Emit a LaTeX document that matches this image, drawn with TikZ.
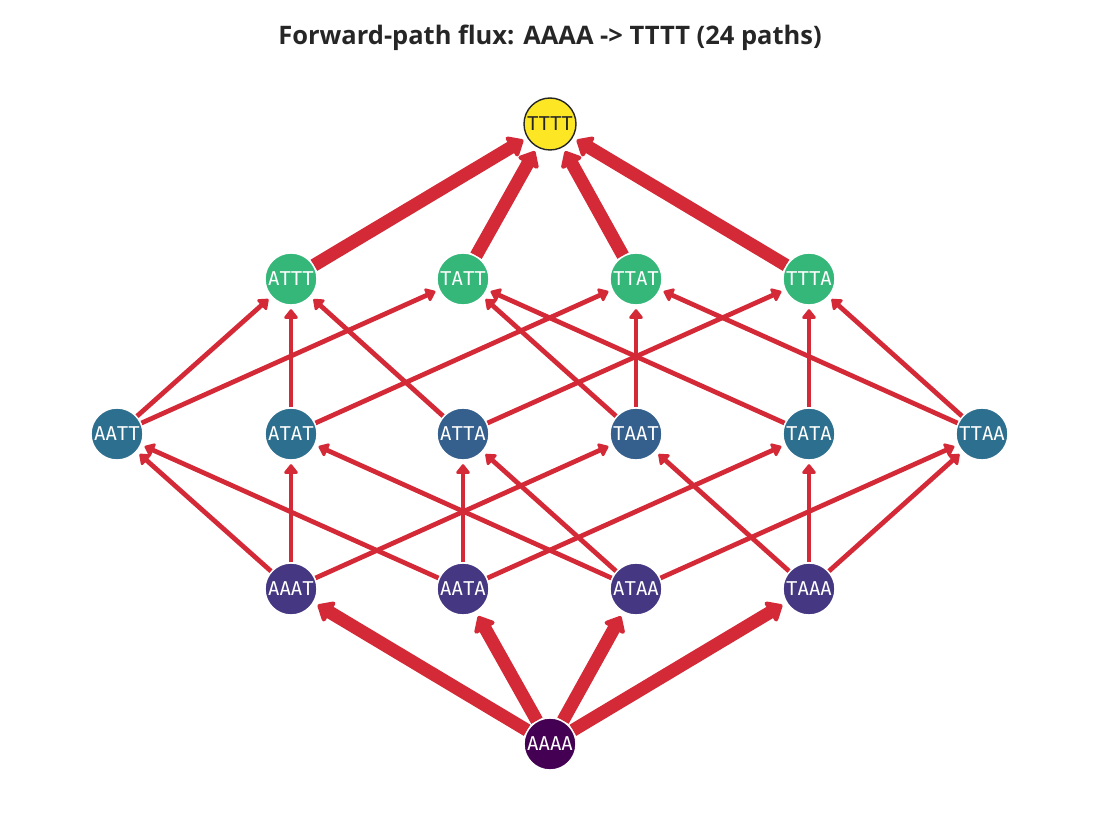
\documentclass[tikz,border=0pt]{standalone}
\usepackage{fontspec}
\setmainfont{Open Sans}
\newfontfamily\nodefont{DejaVu Sans Mono}
\usetikzlibrary{arrows.meta,backgrounds}
\definecolor{fluxRed}{HTML}{D42A37}
\definecolor{vLevel0}{HTML}{440154}
\definecolor{vLevel1}{HTML}{453781}
\definecolor{vLevel2}{HTML}{2D6F8E}
\definecolor{vLevel2b}{HTML}{355F8D}
\definecolor{vLevel3}{HTML}{35B779}
\definecolor{vLevel4}{HTML}{FDE725}
\definecolor{ink}{HTML}{262626}

\begin{document}
\begin{tikzpicture}[x=0.02cm,y=-0.02cm,
  state/.style={circle,draw=white,line width=0.8pt,minimum size=1.04cm,inner sep=0pt,text=white,font=\nodefont\fontsize{10.8}{12}\selectfont},
  flux/.style={draw=fluxRed,line width=2.7pt,shorten >=2pt,-{Triangle[round,length=6pt,width=9pt]}},
  bigflux/.style={draw=fluxRed,line width=7.4pt,shorten >=2.5pt,-{Triangle[round,length=9pt,width=15pt]}}]
\useasboundingbox (0,0) rectangle (1100,837);
\node[font=\bfseries\fontsize{14.5}{17}\selectfont,text=ink] (title) at (550,38) {Forward-path flux: AAAA -> TTTT (24 paths)};
% top : TTTT
\node[state,fill=vLevel4,draw=ink,text=ink] (TTTT) at (550,124) {TTTT};
% three T
\node[state,fill=vLevel3] (ATTT) at (291,279) {ATTT};
\node[state,fill=vLevel3] (TATT) at (463,279) {TATT};
\node[state,fill=vLevel3] (TTAT) at (636,279) {TTAT};
\node[state,fill=vLevel3] (TTTA) at (809,279) {TTTA};
% two T
\node[state,fill=vLevel2]  (AATT) at (117,434) {AATT};
\node[state,fill=vLevel2]  (ATAT) at (291,434) {ATAT};
\node[state,fill=vLevel2b] (ATTA) at (463,434) {ATTA};
\node[state,fill=vLevel2b] (TAAT) at (636,434) {TAAT};
\node[state,fill=vLevel2]  (TATA) at (809,434) {TATA};
\node[state,fill=vLevel2]  (TTAA) at (982,434) {TTAA};
% one T
\node[state,fill=vLevel1] (AAAT) at (291,589) {AAAT};
\node[state,fill=vLevel1] (AATA) at (463,589) {AATA};
\node[state,fill=vLevel1] (ATAA) at (636,589) {ATAA};
\node[state,fill=vLevel1] (TAAA) at (809,589) {TAAA};
% bottom : AAAA
\node[state,fill=vLevel0] (AAAA) at (550,744) {AAAA};
% flux along the edges
\begin{scope}[on background layer]
\foreach \a/\b in {AAAT/AATT,AAAT/ATAT,AAAT/TAAT,AATA/AATT,AATA/ATTA,AATA/TATA,
                   ATAA/ATAT,ATAA/ATTA,ATAA/TTAA,TAAA/TAAT,TAAA/TATA,TAAA/TTAA,
                   AATT/ATTT,AATT/TATT,ATAT/ATTT,ATAT/TTAT,ATTA/ATTT,ATTA/TTTA,
                   TAAT/TATT,TAAT/TTAT,TATA/TATT,TATA/TTTA,TTAA/TTAT,TTAA/TTTA}
  \draw[flux] (\a) -- (\b);
\foreach \b in {AAAT,AATA,ATAA,TAAA}
  \draw[bigflux] (AAAA) -- (\b);
\foreach \a in {ATTT,TATT,TTAT,TTTA}
  \draw[bigflux] (\a) -- (TTTT);
\end{scope}
\end{tikzpicture}
\end{document}
